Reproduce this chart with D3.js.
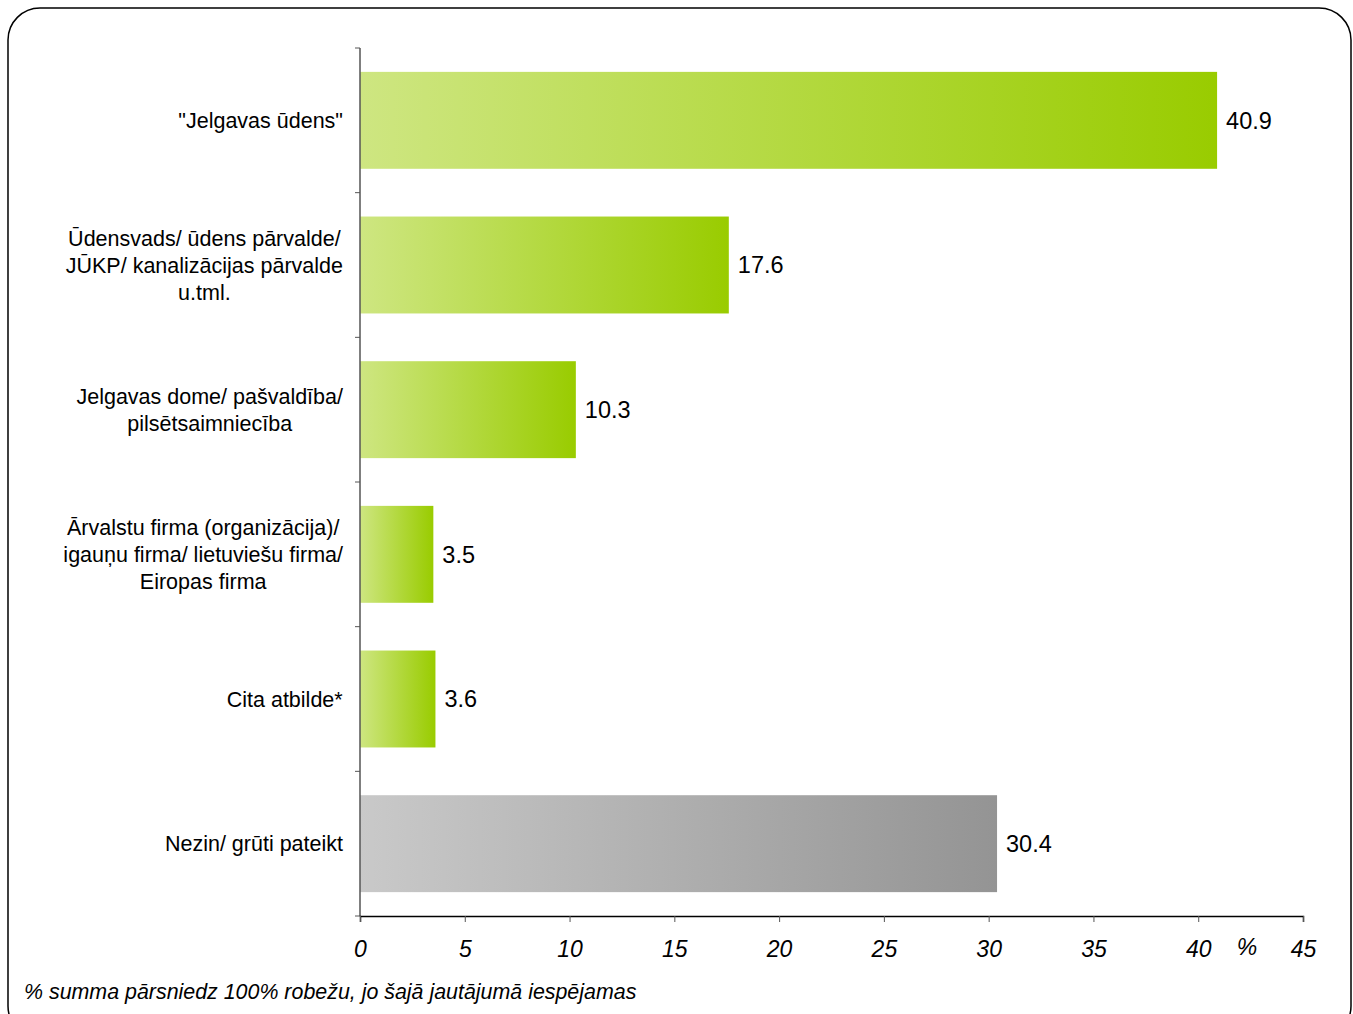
<!DOCTYPE html>
<html>
<head>
<meta charset="utf-8">
<script src="https://cdn.jsdelivr.net/npm/d3@7"></script>
<style>
    body { margin: 0; background: #fff; }
    svg { display: block; font-family: "Liberation Sans", Arial, sans-serif; }
</style>
</head>
<body>
<svg id="chart" width="1353" height="1014"></svg>
<script>
// categories top to bottom, label lines split on "|"
const categories = [
    '"Jelgavas ūdens"',
    'Ūdensvads/ ūdens pārvalde/|JŪKP/ kanalizācijas pārvalde|u.tml.',
    'Jelgavas dome/ pašvaldība/|pilsētsaimniecība',
    'Ārvalstu firma (organizācija)/|igauņu firma/ lietuviešu firma/|Eiropas firma',
    'Cita atbilde*',
    'Nezin/ grūti pateikt'
];
const values = [40.9, 17.6, 10.3, 3.5, 3.6, 30.4];
const gray_rows = [false, false, false, false, false, true];
const x_ticks = [0, 5, 10, 15, 20, 25, 30, 35, 40, 45];
const footnote = "% summa pārsniedz 100% robežu, jo šajā jautājumā iespējamas";

let svg = d3.select("#chart");

// frame
svg.append("rect")
    .attr("x", 8).attr("y", 8)
    .attr("width", 1343).attr("height", 1030)
    .attr("rx", 32).attr("ry", 32)
    .attr("fill", "none")
    .attr("stroke", "#000")
    .attr("stroke-width", 1.5);

let defs = svg.append("defs");
function addGradient(id, from, to) {
    let g = defs.append("linearGradient").attr("id", id)
        .attr("x1", "0%").attr("x2", "100%").attr("y1", "0%").attr("y2", "0%");
    g.append("stop").attr("offset", "0%").attr("stop-color", from);
    g.append("stop").attr("offset", "100%").attr("stop-color", to);
}
addGradient("greenGrad", "#cee681", "#99cc00");
addGradient("grayGrad", "#c9c9c9", "#949494");

const plotLeft = 360, plotRight = 1303, plotTop = 48, plotBottom = 916;

let x = d3.scaleLinear().domain([0, 45]).range([plotLeft, plotRight]);
let y = d3.scaleBand().domain(d3.range(categories.length)).range([plotTop, plotBottom]).paddingInner(0.33).paddingOuter(0.165);

// bars
svg.append("g").selectAll("rect")
    .data(values)
    .enter()
    .append("rect")
    .attr("x", x(0))
    .attr("y", (d, i) => y(i))
    .attr("width", d => x(d) - x(0))
    .attr("height", y.bandwidth())
    .attr("fill", (d, i) => gray_rows[i] ? "url(#grayGrad)" : "url(#greenGrad)");

// value labels
svg.append("g").selectAll("text")
    .data(values)
    .enter()
    .append("text")
    .attr("x", d => x(d) + 9)
    .attr("y", (d, i) => y(i) + y.bandwidth() / 2)
    .attr("dy", "0.35em")
    .attr("font-size", 23.5)
    .attr("fill", "#000")
    .text(d => d.toFixed(1));

// category labels: lines centred on each other, block right edge at 343
let catG = svg.append("g");
categories.forEach(function (c, i) {
    let lines = c.split("|");
    let cy = y(i) + y.bandwidth() / 2;
    let lh = 27;
    let t = catG.append("text")
        .attr("text-anchor", "middle")
        .attr("font-size", 21.5)
        .attr("fill", "#000");
    lines.forEach(function (l, j) {
        t.append("tspan")
            .attr("x", 0)
            .attr("y", cy + (j - (lines.length - 1) / 2) * lh)
            .attr("dy", "0.35em")
            .text(l);
    });
    let w = t.node().getBBox().width;
    t.selectAll("tspan").attr("x", 343 - w / 2);
});

// y axis with band boundary ticks
let yAxis = svg.append("g");
yAxis.append("line")
    .attr("x1", plotLeft).attr("x2", plotLeft).attr("y1", plotTop).attr("y2", plotBottom)
    .attr("stroke", "#555").attr("stroke-width", 1.5);
let step = (plotBottom - plotTop) / categories.length;
yAxis.selectAll("line.tick")
    .data(d3.range(categories.length + 1))
    .enter()
    .append("line")
    .attr("class", "tick")
    .attr("x1", plotLeft - 5).attr("x2", plotLeft)
    .attr("y1", d => plotTop + d * step).attr("y2", d => plotTop + d * step)
    .attr("stroke", "#555").attr("stroke-width", 1);

// x axis
let xAxis = svg.append("g")
    .attr("transform", `translate(0,${plotBottom})`)
    .call(d3.axisBottom(x).tickValues(x_ticks).tickSize(6).tickPadding(19));
xAxis.select(".domain").attr("stroke", "#000").attr("stroke-width", 1.5);
xAxis.selectAll(".tick line").attr("stroke", "#555");
xAxis.selectAll(".tick text")
    .attr("font-size", 23)
    .attr("font-style", "italic")
    .attr("font-family", "Liberation Sans, Arial, sans-serif")
    .attr("fill", "#000");

svg.append("text")
    .attr("x", 1247).attr("y", 955)
    .attr("text-anchor", "middle")
    .attr("font-size", 23)
    .attr("font-style", "italic")
    .text("%");

svg.append("text")
    .attr("x", 24).attr("y", 999)
    .attr("font-size", 21.4)
    .attr("font-style", "italic")
    .text(footnote);
</script>
</body>
</html>
